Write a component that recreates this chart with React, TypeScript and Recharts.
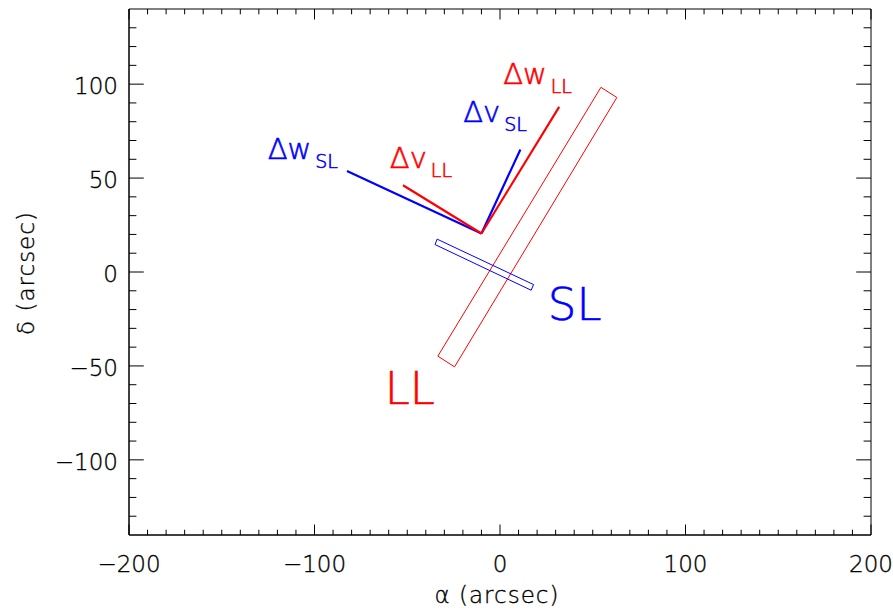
import React from 'react';
import { ScatterChart, Scatter, XAxis, YAxis, ReferenceArea } from 'recharts';

// ---- data (arcsec) ----
const xTicks = [-200, -190, -180, -170, -160, -150, -140, -130, -120, -110, -100, -90, -80, -70, -60, -50, -40, -30, -20, -10, 0, 10, 20, 30, 40, 50, 60, 70, 80, 90, 100, 110, 120, 130, 140, 150, 160, 170, 180, 190, 200];
const yTicks = [-130, -120, -110, -100, -90, -80, -70, -60, -50, -40, -30, -20, -10, 0, 10, 20, 30, 40, 50, 60, 70, 80, 90, 100, 110, 120, 130];
const xLabelTicks = [-200, -100, 0, 100, 200];
const yLabelTicks = [-100, -50, 0, 50, 100];

const dwSL = [{ x: -10, y: 20.5 }, { x: -82.5, y: 53.8 }];
const dvLL = [{ x: -10, y: 20.5 }, { x: -52.3, y: 46.2 }];
const dvSL = [{ x: -10, y: 20.5 }, { x: 11.0, y: 65.2 }];
const dwLL = [{ x: -10, y: 20.5 }, { x: 31.9, y: 87.9 }];

const slitLL = [
  { x: 54.4, y: 98.3 }, { x: 63.0, y: 92.9 }, { x: -24.5, y: -50.5 }, { x: -33.5, y: -44.8 }, { x: 54.4, y: 98.3 },
];
const slitSL = [
  { x: -33.9, y: 17.5 }, { x: 18.1, y: -6.7 }, { x: 16.8, y: -9.7 }, { x: -35.0, y: 14.6 }, { x: -33.9, y: 17.5 },
];

const vectorLabels = [
  { x: -125.2, y: 59.9, main: 'Δw', sub: 'SL', inst: 'SL' },
  { x: -59.4, y: 55.1, main: 'Δv', sub: 'LL', inst: 'LL' },
  { x: -19.8, y: 79.9, main: 'Δv', sub: 'SL', inst: 'SL' },
  { x: 1.7, y: 100.0, main: 'Δw', sub: 'LL', inst: 'LL' },
];
const slitLabels = [
  { x: 25.8, y: -25.3, main: 'SL', inst: 'SL' },
  { x: -62.1, y: -70.0, main: 'LL', inst: 'LL' },
];

// ---- layout / styles ----
const COLORS: Record<string, string> = { SL: '#0000ff', LL: '#ff0000' };
const FONT = '"DejaVu Sans", sans-serif';
const WEIGHT = 200;
const INK = '#000';
const LEFT = 129;
const TOP = 9;
const PLOT_W = 742;
const PLOT_H = 526;
const BOTTOM = TOP + PLOT_H;
const RIGHT = LEFT + PLOT_W;

const fmt = (v: number) => (v < 0 ? '\u2212' + Math.abs(v) : String(v));

const tickText = { fontFamily: FONT, fontWeight: WEIGHT, fontSize: 23, fill: INK, stroke: INK, strokeWidth: 0.35 };

const BottomTick = (props: any) => {
  const { x, payload } = props;
  const v = payload.value;
  const major = xLabelTicks.includes(v);
  const len = major ? 10.5 : 5.3;
  return (
    <g>
      <line x1={x} x2={x} y1={BOTTOM} y2={BOTTOM - len} stroke={INK} strokeWidth={1} />
      <line x1={x} x2={x} y1={TOP} y2={TOP + len} stroke={INK} strokeWidth={1} />
      {major && (
        <text x={x} y={BOTTOM + 37} textAnchor="middle" {...tickText}>
          {fmt(v)}
        </text>
      )}
    </g>
  );
};

const LeftTick = (props: any) => {
  const { y, payload } = props;
  const v = payload.value;
  const major = yLabelTicks.includes(v);
  const len = major ? 14.8 : 7.4;
  return (
    <g>
      <line x1={LEFT} x2={LEFT + len} y1={y} y2={y} stroke={INK} strokeWidth={1} />
      <line x1={RIGHT} x2={RIGHT - len} y1={y} y2={y} stroke={INK} strokeWidth={1} />
      {major && (
        <text x={LEFT - 11} y={y + 10} textAnchor="end" {...tickText}>
          {fmt(v)}
        </text>
      )}
    </g>
  );
};

const XLabel = () => (
  <text x={497} y={BOTTOM + 68} textAnchor="middle" letterSpacing={1} {...tickText}>
    α (arcsec)
  </text>
);

const YLabel = () => {
  const x = 34;
  const cy = 273;
  return (
    <text x={x} y={cy} transform={`rotate(-90, ${x}, ${cy})`} textAnchor="middle" letterSpacing={1} {...tickText}>
      δ (arcsec)
    </text>
  );
};

const NoShape = () => <g />;

const VectorLabelShape = (props: any) => {
  const { cx, cy, payload } = props;
  const c = COLORS[payload.inst];
  return (
    <text x={cx} y={cy} fill={c} stroke={c} strokeWidth={0.6} fontFamily={FONT} fontWeight={WEIGHT} fontSize={29}>
      <tspan>{payload.main}</tspan>
      <tspan dx={4} dy={9} fontSize={19}>{payload.sub}</tspan>
    </text>
  );
};

const SlitLabelShape = (props: any) => {
  const { cx, cy, payload } = props;
  const c = COLORS[payload.inst];
  return (
    <text x={cx} y={cy} fill={c} stroke={c} strokeWidth={0.6} fontFamily={FONT} fontWeight={WEIGHT} fontSize={45}>
      {payload.main}
    </text>
  );
};

export default function App() {
  return (
    <div style={{ position: 'absolute', left: 0, top: 0, width: 893, height: 611, background: '#fff' }}>
      <ScatterChart width={893} height={611} margin={{ top: TOP, right: 893 - RIGHT, bottom: 0, left: 0 }}>
        <XAxis
          xAxisId="b" type="number" dataKey="x" domain={[-200, 200]} allowDataOverflow
          ticks={xTicks} interval={0} tick={<BottomTick />}
          axisLine={{ stroke: INK }} tickLine={false} height={611 - BOTTOM} orientation="bottom"
          label={<XLabel />}
        />
        <YAxis
          yAxisId="l" type="number" dataKey="y" domain={[-140, 140]} allowDataOverflow
          ticks={yTicks} interval={0} tick={<LeftTick />}
          axisLine={{ stroke: INK }} tickLine={false} width={LEFT} orientation="left"
          label={<YLabel />}
        />

        <ReferenceArea xAxisId="b" yAxisId="l" x1={-200} x2={200} y1={-140} y2={140} fill="none" fillOpacity={0} stroke={INK} strokeWidth={1} ifOverflow="visible" />

        <Scatter xAxisId="b" yAxisId="l" data={slitLL} shape={<NoShape />} line={{ stroke: COLORS.LL, strokeWidth: 1 }} isAnimationActive={false} />
        <Scatter xAxisId="b" yAxisId="l" data={slitSL} shape={<NoShape />} line={{ stroke: COLORS.SL, strokeWidth: 1 }} isAnimationActive={false} />
        <Scatter xAxisId="b" yAxisId="l" data={dwSL} shape={<NoShape />} line={{ stroke: COLORS.SL, strokeWidth: 2.2 }} isAnimationActive={false} />
        <Scatter xAxisId="b" yAxisId="l" data={dvSL} shape={<NoShape />} line={{ stroke: COLORS.SL, strokeWidth: 2.2 }} isAnimationActive={false} />
        <Scatter xAxisId="b" yAxisId="l" data={dvLL} shape={<NoShape />} line={{ stroke: COLORS.LL, strokeWidth: 2.2 }} isAnimationActive={false} />
        <Scatter xAxisId="b" yAxisId="l" data={dwLL} shape={<NoShape />} line={{ stroke: COLORS.LL, strokeWidth: 2.2 }} isAnimationActive={false} />

        <Scatter xAxisId="b" yAxisId="l" data={vectorLabels} shape={<VectorLabelShape />} isAnimationActive={false} />
        <Scatter xAxisId="b" yAxisId="l" data={slitLabels} shape={<SlitLabelShape />} isAnimationActive={false} />
      </ScatterChart>
    </div>
  );
}
